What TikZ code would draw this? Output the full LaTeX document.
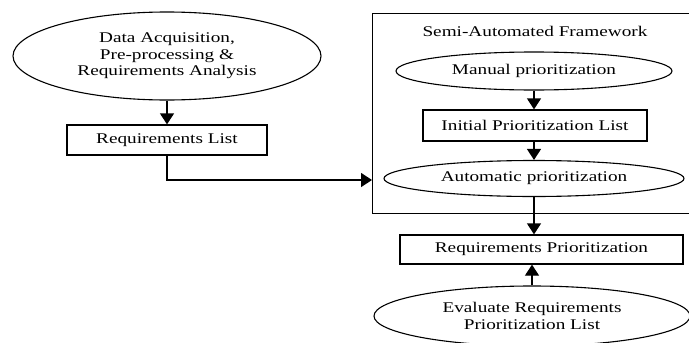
\documentclass[tikz,border=0pt]{standalone}
\usepackage{fontspec}
\setmainfont[FakeStretch=1.3]{Liberation Serif}
\usetikzlibrary{shapes.geometric,arrows.meta}
\begin{document}
\begin{tikzpicture}[x=1pt,y=-1pt,
  every node/.style={font=\fontsize{14.8}{16.5}\selectfont, inner sep=0pt, align=center},
  oval/.style={draw, line width=1.1pt, ellipse},
  stepbox/.style={draw, line width=1.3pt, rectangle},
  arr/.style={line width=1.3pt, -{Triangle[width=14pt,length=11pt]}},
  ln/.style={line width=1.3pt}]
\useasboundingbox (0,0) rectangle (689,343);
\clip (0,0) rectangle (689,343);
% left part
\node[oval, minimum width=308pt, minimum height=88pt] (e1) at (167,56) {Data Acquisition,\\Pre-processing \&\\Requirements Analysis};
\node[stepbox, minimum width=200pt, minimum height=30pt] (b1) at (167,140) {Requirements List};
% framework
\node[draw, line width=1.3pt, minimum width=330pt, minimum height=200pt, anchor=north west] (frame) at (372,13) {};
\node (title) at (535,31) {Semi-Automated Framework};
\node[oval, minimum width=276pt, minimum height=38pt] (e2) at (534,71) {Manual prioritization};
\node[stepbox, minimum width=224pt, minimum height=31pt] (b2) at (535,125.5) {Initial Prioritization List};
\node[oval, minimum width=300pt, minimum height=36pt] (e3) at (534,178.5) {Automatic prioritization};
% bottom
\node[stepbox, minimum width=283pt, minimum height=29pt] (b3) at (541.5,249.5) {Requirements Prioritization};
\node[oval, minimum width=316pt, minimum height=60pt] (e4) at (532,316) {Evaluate Requirements\\Prioritization List};
% connectors
\draw[arr] (e1.south) -- (b1.north);
\coordinate (bend) at (b1.south |- 0,180);
\draw[arr] (b1.south) -- (bend) -- (bend -| frame.west);
\draw[arr] (e2.south) -- (b2.north -| e2.south);
\draw[arr] (b2.south -| e2.south) -- (e3.north);
\draw[arr] (e3.south) -- (e3.south |- b3.north);
\draw[arr] (e4.north) -- (e4.north |- b3.south);
\end{tikzpicture}
\end{document}
